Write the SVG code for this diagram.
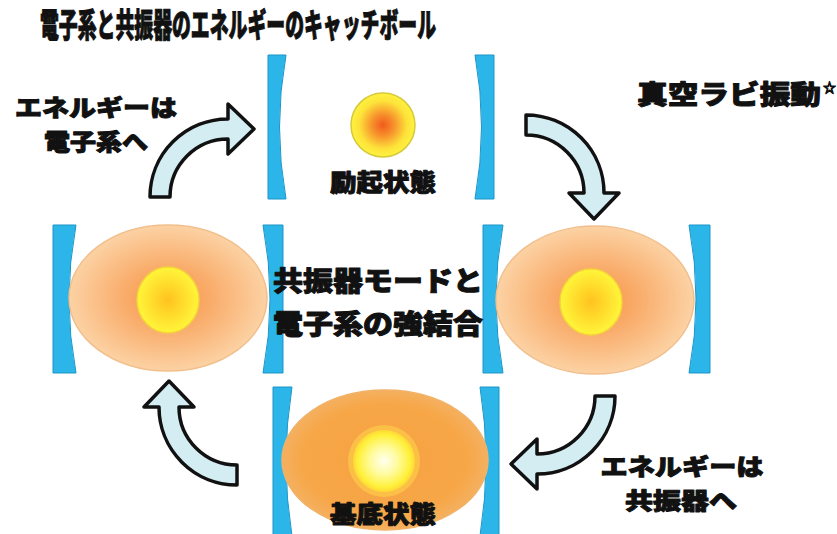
<svg xmlns="http://www.w3.org/2000/svg" width="837" height="534" viewBox="0 0 837 534">
  <defs>
    <style>
      .t { font-family: "Noto Sans CJK JP", "Noto Sans", sans-serif; font-weight: 900; fill: #111; stroke: #111; stroke-width: 1; stroke-linejoin: round; }
      .mirror { fill: #2bb5e8; stroke: #1c95c8; stroke-width: 1; }
      .arrow { fill: #d3edf2; stroke: #111; stroke-width: 3.5; stroke-linejoin: round; }
      .cloud { stroke: #f2bf8c; stroke-width: 1.5; }
    </style>
    <!-- pale peach mode with orange core -->
    <radialGradient id="modeSoft" cx="0.5" cy="0.5" r="0.5">
      <stop offset="0" stop-color="#f8923e"/>
      <stop offset="0.45" stop-color="#f9ad6c"/>
      <stop offset="1" stop-color="#fcd2a4"/>
    </radialGradient>
    <!-- deep orange ground-state mode -->
    <radialGradient id="modeDeep" cx="0.5" cy="0.5" r="0.5">
      <stop offset="0" stop-color="#f6a140"/>
      <stop offset="0.8" stop-color="#f7a748"/>
      <stop offset="1" stop-color="#f4b060"/>
    </radialGradient>
    <radialGradient id="atomMid" cx="0.5" cy="0.5" r="0.5">
      <stop offset="0" stop-color="#ffc21f"/>
      <stop offset="0.6" stop-color="#ffe12f"/>
      <stop offset="1" stop-color="#fff53a"/>
    </radialGradient>
    <radialGradient id="atomHot" cx="0.5" cy="0.5" r="0.5">
      <stop offset="0" stop-color="#f05a1e"/>
      <stop offset="0.35" stop-color="#f7922c"/>
      <stop offset="0.75" stop-color="#fde23a"/>
      <stop offset="1" stop-color="#fff23e"/>
    </radialGradient>
    <radialGradient id="atomCool" cx="0.5" cy="0.5" r="0.5">
      <stop offset="0" stop-color="#fffff0"/>
      <stop offset="0.45" stop-color="#fffb9c"/>
      <stop offset="0.85" stop-color="#fff03a"/>
      <stop offset="1" stop-color="#ffd836"/>
    </radialGradient>
    <!-- curved arrow, arc centre at origin, tail at left, head pointing right at top -->
    <path id="curl" class="arrow" d="M -78 0 A 78 78 0 0 1 0 -78 L 0 -93 L 26 -68 L 0 -43 L 0 -58 A 58 58 0 0 0 -58 0 Z"/>
  </defs>

  <rect width="837" height="534" fill="#ffffff"/>

  <text class="t" x="40" y="37" font-size="33" textLength="396" lengthAdjust="spacingAndGlyphs">電子系と共振器のエネルギーのキャッチボール</text>

  <!-- excited state (top cavity) -->
  <g id="excited">
    <path class="mirror" d="M 268 55 L 286 55 Q 273 127 286 199 L 268 199 Z"/>
    <path class="mirror" d="M 494 55 L 475 55 Q 488 127 475 199 L 494 199 Z"/>
    <circle cx="383" cy="125" r="32" fill="url(#atomHot)" stroke="#d6c93a" stroke-width="1.5"/>
    <text class="t" x="383" y="191" font-size="24" text-anchor="middle" textLength="106" lengthAdjust="spacingAndGlyphs">励起状態</text>
  </g>

  <!-- left cavity, coupled state -->
  <g id="left-cavity">
    <path class="mirror" d="M 53 225 L 76 225 Q 62 299 76 373 L 53 373 Z"/>
    <path class="mirror" d="M 283 225 L 263 225 Q 277 299 263 373 L 283 373 Z"/>
    <ellipse class="cloud" cx="168" cy="298" rx="99" ry="73" fill="url(#modeSoft)"/>
    <ellipse cx="168" cy="300" rx="31" ry="33" fill="url(#atomMid)" stroke="#f3d43a" stroke-width="1.5"/>
  </g>

  <!-- right cavity, coupled state -->
  <g id="right-cavity">
    <path class="mirror" d="M 483 225 L 503 225 Q 489 299 503 373 L 483 373 Z"/>
    <path class="mirror" d="M 710 225 L 689 225 Q 703 299 689 373 L 710 373 Z"/>
    <ellipse class="cloud" cx="595" cy="300" rx="99" ry="74" fill="url(#modeSoft)"/>
    <ellipse cx="591" cy="302" rx="31" ry="33" fill="url(#atomMid)" stroke="#f3d43a" stroke-width="1.5"/>
  </g>

  <!-- ground state (bottom cavity) -->
  <g id="ground">
    <path class="mirror" d="M 273 387 L 292 387 Q 280 461 292 536 L 273 536 Z"/>
    <path class="mirror" d="M 499 387 L 480 387 Q 492 461 480 536 L 499 536 Z"/>
    <ellipse cx="385" cy="460" rx="103" ry="70" fill="url(#modeDeep)" stroke="#f2b266" stroke-width="1.5"/>
    <circle cx="384" cy="461" r="36" fill="#ffd24a" opacity="0.6"/>
    <circle cx="384" cy="461" r="31" fill="url(#atomCool)"/>
    <text class="t" x="383" y="523" font-size="24" text-anchor="middle" textLength="106" lengthAdjust="spacingAndGlyphs">基底状態</text>
  </g>

  <g id="center-label">
    <text class="t" x="378" y="291" font-size="27" text-anchor="middle" textLength="210" lengthAdjust="spacingAndGlyphs">共振器モードと</text>
    <text class="t" x="378" y="334" font-size="27" text-anchor="middle" textLength="210" lengthAdjust="spacingAndGlyphs">電子系の強結合</text>
  </g>

  <g id="rabi-label">
    <text class="t" x="637" y="104" font-size="26" textLength="184" lengthAdjust="spacingAndGlyphs">真空ラビ振動</text>
    <text class="t" x="823" y="92" font-size="13" stroke-width="0.5">☆</text>
  </g>

  <g id="to-electron-label">
    <text class="t" x="96" y="116" font-size="23" text-anchor="middle" textLength="162" lengthAdjust="spacingAndGlyphs">エネルギーは</text>
    <text class="t" x="96" y="150" font-size="23" text-anchor="middle" textLength="104" lengthAdjust="spacingAndGlyphs">電子系へ</text>
  </g>

  <g id="to-cavity-label">
    <text class="t" x="682" y="475" font-size="23" text-anchor="middle" textLength="163" lengthAdjust="spacingAndGlyphs">エネルギーは</text>
    <text class="t" x="681" y="509" font-size="23" text-anchor="middle" textLength="112" lengthAdjust="spacingAndGlyphs">共振器へ</text>
  </g>

  <!-- energy exchange cycle -->
  <g id="connectors">
    <use href="#curl" transform="translate(228 197)"/>
    <use href="#curl" transform="translate(526 193) rotate(90)"/>
    <use href="#curl" transform="translate(537 396) rotate(180)"/>
    <use href="#curl" transform="translate(237 407) rotate(270)"/>
  </g>
</svg>
